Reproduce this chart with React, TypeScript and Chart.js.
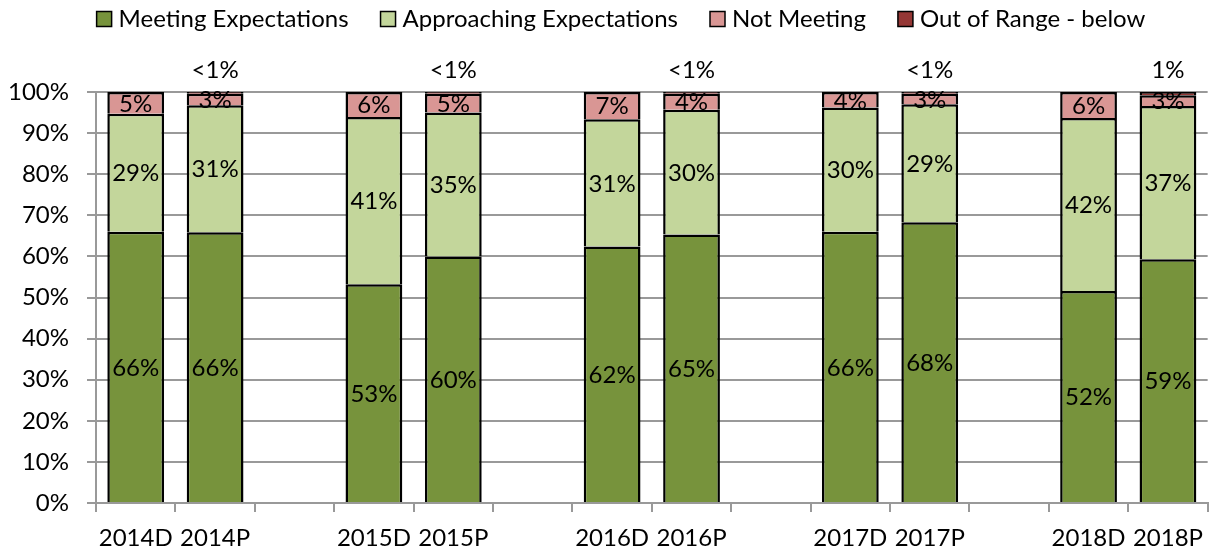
import React, { useEffect, useRef } from "react";
import { Chart, registerables } from "chart.js";

Chart.register(...registerables);

const categories = ["2014D", "2014P", "", "2015D", "2015P", "", "2016D", "2016P", "", "2017D", "2017P", "", "2018D", "2018P"];
const meeting = [66.0, 65.9, null, 53.2, 60.0, null, 62.4, 65.3, null, 66.0, 68.3, null, 51.6, 59.3];
const approaching = [28.7, 30.9, null, 40.7, 35.0, null, 31.0, 30.4, null, 30.2, 28.7, null, 42.1, 37.3];
const notMeeting = [5.3, 2.8, null, 6.1, 4.6, null, 6.6, 3.9, null, 3.8, 2.6, null, 6.3, 2.6];
const outOfRange = [0, 0.4, null, 0, 0.4, null, 0, 0.4, null, 0, 0.4, null, 0, 0.8];
const outLabels = ["", "<1%", "", "", "<1%", "", "", "<1%", "", "", "<1%", "", "", "1%"];
const seriesNames = ["Meeting Expectations", "Approaching Expectations", "Not Meeting", "Out of Range - below"];
const seriesColors = ["#77933C", "#C3D69B", "#D99694", "#953735"];

const FONT = "Lato";
const FS = 24;

const labelPlugin = {
  id: "segLabels",
  afterDatasetsDraw(chart: any) {
    const ctx = chart.ctx;
    ctx.save();
    ctx.font = `${FS}px ${FONT}`;
    ctx.fillStyle = "#000";
    ctx.textAlign = "center";
    ctx.textBaseline = "middle";
    for (let i = 0; i < 3; i++) {
      const meta = chart.getDatasetMeta(i);
      const data = chart.data.datasets[i].data;
      meta.data.forEach((el: any, j: number) => {
        const v = data[j];
        if (v == null || v === 0) return;
        const p = el.getProps(["x", "y", "base"], true);
        ctx.fillText(Math.round(v) + "%", p.x, (p.y + p.base) / 2 + 1);
      });
    }
    const meta3 = chart.getDatasetMeta(3);
    meta3.data.forEach((el: any, j: number) => {
      const t = outLabels[j];
      if (!t) return;
      const p = el.getProps(["x"], true);
      ctx.fillText(t, p.x, 70);
    });
    ctx.restore();
  },
};

const legendPlugin = {
  id: "customLegend",
  afterDraw(chart: any) {
    const ctx = chart.ctx;
    ctx.save();
    ctx.font = `${FS}px ${FONT}`;
    const box = 15;
    const gapText = 7;
    const gapItem = 32;
    const widths = seriesNames.map((n) => ctx.measureText(n).width);
    const total = widths.reduce((a, w) => a + box + gapText + w, 0) + gapItem * (seriesNames.length - 1);
    let x = 621 - total / 2;
    const cy = 18;
    seriesNames.forEach((n, i) => {
      ctx.fillStyle = seriesColors[i];
      ctx.fillRect(x, cy - box / 2 + 1, box, box);
      ctx.strokeStyle = "#000";
      ctx.lineWidth = 1.5;
      ctx.strokeRect(x, cy - box / 2 + 1, box, box);
      ctx.fillStyle = "#000";
      ctx.textAlign = "left";
      ctx.textBaseline = "middle";
      ctx.fillText(n, x + box + gapText, cy + 1);
      x += box + gapText + widths[i] + gapItem;
    });
    ctx.restore();
  },
};

function BarChart() {
  const ref = useRef<HTMLCanvasElement | null>(null);
  useEffect(() => {
    if (!ref.current) return;
    const border = { top: 2.5, left: 2.5, right: 2.5, bottom: 0 };
    const mk = (label: string, data: any[], color: string) => ({
      label,
      data,
      backgroundColor: color,
      borderColor: "#000",
      borderWidth: border,
      borderSkipped: false as any,
      stack: "s",
    });
    const chart = new Chart(ref.current, {
      type: "bar",
      data: {
        labels: categories,
        datasets: [
          mk(seriesNames[0], meeting, seriesColors[0]),
          mk(seriesNames[1], approaching, seriesColors[1]),
          mk(seriesNames[2], notMeeting, seriesColors[2]),
          mk(seriesNames[3], outOfRange, seriesColors[3]),
        ],
      },
      options: {
        responsive: false,
        animation: false,
        devicePixelRatio: 1,
        layout: { padding: { top: 92, left: 0, right: 0, bottom: 0 } },
        datasets: { bar: { categoryPercentage: 1, barPercentage: 0.715 } },
        plugins: { legend: { display: false }, tooltip: { enabled: false } },
        scales: {
          x: {
            stacked: true,
            afterFit(scale: any) {
              scale.height = 49;
            },
            grid: { drawOnChartArea: false, drawTicks: true, tickLength: 9, color: "#999", lineWidth: 2, offset: true },
            border: { display: true, color: "#999", width: 2 },
            ticks: { autoSkip: false, maxRotation: 0, color: "#000", font: { family: FONT, size: FS }, padding: 12 },
          },
          y: {
            stacked: true,
            min: 0,
            max: 100,
            afterFit(scale: any) {
              scale.width = 96;
            },
            grid: { color: "#999", lineWidth: 2, tickLength: 9 },
            border: { display: true, color: "#999", width: 2 },
            ticks: { stepSize: 10, color: "#000", font: { family: FONT, size: FS }, padding: 18, callback: (v: any) => v + "%" },
          },
        },
      },
      plugins: [labelPlugin, legendPlugin],
    });
    return () => chart.destroy();
  }, []);
  return <canvas ref={ref} width={1215} height={552} style={{ display: "block" }} />;
}

export default function App() {
  return (
    <div style={{ position: "fixed", left: 0, top: 0, width: 1215, height: 552, background: "#fff" }}>
      <BarChart />
    </div>
  );
}
